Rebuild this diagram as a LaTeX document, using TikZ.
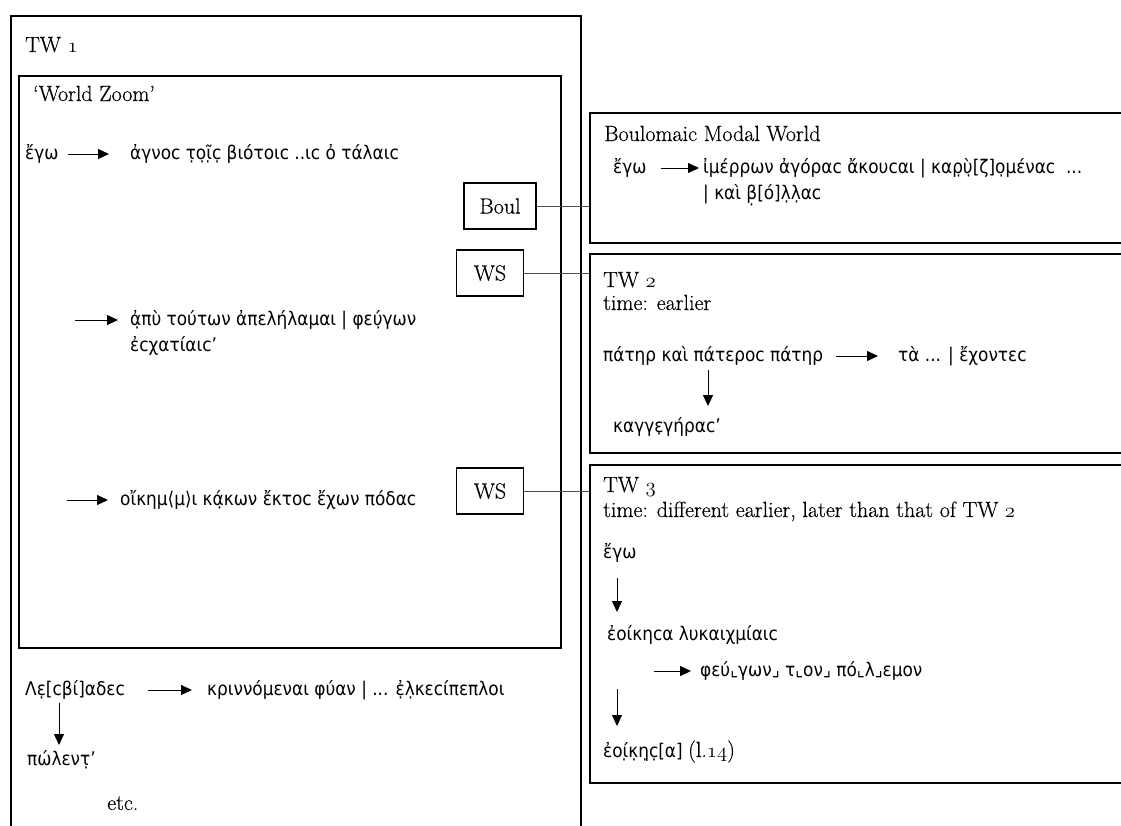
\documentclass[tikz,border=0pt]{standalone}
\usepackage{fontspec}
\setmainfont{Latin Modern Roman}[FakeBold=0.4]
\newfontfamily\grk{DejaVu Sans Condensed}
\usetikzlibrary{arrows.meta}
% old-style digits taken from the Computer Modern math italic font
\newcommand\osn[1]{{\usefont{OML}{cmm}{m}{it}#1}}

\tikzset{
  en/.style={font=\fontsize{22}{26}\selectfont, inner sep=0pt},
  gr/.style={font=\grk\fontsize{18.8}{23}\selectfont, inner sep=0pt},
  arr/.style={-{Triangle[length=11pt,width=10pt]}, line width=1pt},
  frame/.style={draw, line width=1.6pt, inner sep=0pt, anchor=north west},
  tagbox/.style={draw, line width=1.6pt, inner sep=0pt, minimum width=67pt,
    minimum height=46pt, font=\fontsize{22}{26}\selectfont},
  link/.style={draw=black!70, line width=0.9pt}
}

\begin{document}
\begin{tikzpicture}[x=1pt,y=-1pt]
\clip (0,0) rectangle (1121,825);
\useasboundingbox (0,0) rectangle (1121,825);

% ---- frames ----
\node[frame, minimum width=570pt, minimum height=830pt] (tw1box) at (10,15) {};
\node[frame, minimum width=542pt, minimum height=572pt] (wz) at (18,75) {};
\node[frame, minimum width=545pt, minimum height=130pt] (bmw) at (589,112) {};
\node[frame, minimum width=545pt, minimum height=199pt] (tw2box) at (589,253) {};
\node[frame, minimum width=545pt, minimum height=318pt] (tw3box) at (589,464) {};

% ---- world-switch tags ----
\node[tagbox, minimum width=72pt] (boul) at (500,206) {Boul};
\node[tagbox] (ws1) at (490,273) {WS};
\node[tagbox] (ws2) at (490,491) {WS};
\draw[link] (boul.east) -- (boul.east -| bmw.west);
\draw[link] (ws1.east) -- (ws1.east -| tw2box.west);
\draw[link] (ws2.east) -- (ws2.east -| tw3box.west);

% ---- TW 1 ----
\node[en, anchor=base west] (tw1) at (25,52) {TW \osn{1}};
\node[en, anchor=base west] (wzl) at (33,101) {‘World Zoom’};

\node[gr, anchor=base west] (egoA) at (25,159) {ἔγω};
\node[gr, anchor=base west] (tA) at (130,159) {ἀγνοϲ τ̣ο̣ῖ̣ϲ̣ βιότοιϲ ..ιϲ ὀ τάλαιϲ};
\draw[arr, shorten <=9pt, shorten >=21pt] ([yshift=5pt]egoA.base east) -- ([yshift=5pt]tA.base west);

\coordinate (sB) at (75,320);
\node[gr, anchor=base west] (tB1) at (130,325) {ἀ̣πὺ τούτων ἀπελήλαμαι | φεύ̣γων};
\node[gr, anchor=base west] (tB2) at (130,351) {ἐϲχατίαιϲ’};
\draw[arr, shorten >=12pt] (sB) -- (sB -| tB1.west);

\coordinate (sC) at (67,500);
\node[gr, anchor=base west] (tC) at (120,505) {οἴκημ⟨μ⟩ι κά̣κων ἔκτοϲ ἔχων πόδαϲ};
\draw[arr, shorten >=12pt] (sC) -- (sC -| tC.west);

\node[gr, anchor=base west] (lesb) at (25,695) {Λε̣[ϲβί]αδεϲ};
\node[gr, anchor=base west] (krin) at (207,695) {κριννόμεναι φύαν | ... ἐ̣λ̣κεϲίπεπλοι};
\draw[arr, shorten <=23pt, shorten >=15pt] ([yshift=5pt]lesb.base east) -- ([yshift=5pt]krin.base west);
\node[gr, anchor=base west] (polent) at (27,765) {πώλεντ̣’};
\coordinate (dD) at (59,0);
\draw[arr, shorten <=8pt, shorten >=20pt] (lesb.base -| dD) -- (polent.base -| dD);
\node[en, anchor=base west] (etc) at (107,810) {etc.};

% ---- Boulomaic modal world ----
\node[en, anchor=base west] (bmwl) at (604,141) {Boulomaic Modal World};
\node[gr, anchor=base west] (egoB) at (613,173) {ἔγω};
\node[gr, anchor=base west] (tD1) at (703,173) {ἰμέρρων ἀγόραϲ ἄκουϲαι | καρ̣ὺ̣[ζ]ο̣μέναϲ \ ...};
\node[gr, anchor=base west] (tD2) at (703,199) {| καὶ β̣[ό]λ̣λ̣αϲ};
\draw[arr, shorten <=14pt, shorten >=4pt] ([yshift=5pt]egoB.base east) -- ([yshift=5pt]tD1.base west);

% ---- TW 2 ----
\node[en, anchor=base west] (tw2) at (603,287) {TW \osn{2}};
\node[en, anchor=base west] (tw2t) at (603,310) {time: earlier};
\node[gr, anchor=base west] (pat) at (603,361) {πάτηρ καὶ πάτεροϲ πάτηρ};
\node[gr, anchor=base west] (ta) at (898,361) {τὰ ... | ἔχοντεϲ};
\draw[arr, shorten <=13pt, shorten >=20pt] ([yshift=5pt]pat.base east) -- ([yshift=5pt]ta.base west);
\node[gr, anchor=base west] (kag) at (613,432) {καγγε̣γήραϲ’};
\coordinate (dE) at (708,0);
\draw[arr, shorten <=9pt, shorten >=26pt] (pat.base -| dE) -- (kag.base -| dE);

% ---- TW 3 ----
\node[en, anchor=base west] (tw3) at (603,492) {TW \osn{3}};
\node[en, anchor=base west] (tw3t) at (603,517) {time: different earlier, later than that of TW \osn{2}};
\node[gr, anchor=base west] (egoC) at (603,558) {ἔγω};
\node[gr, anchor=base west] (eoi1) at (607,640) {ἐοίκηϲα λυκαιχμίαιϲ};
\coordinate (dF) at (617,0);
\draw[arr, shorten <=20pt, shorten >=28pt] (egoC.base -| dF) -- (eoi1.base -| dF);
\coordinate (sF) at (654,671);
\node[gr, anchor=base west] (feu) at (700,676) {φεύ⌞γων⌟ τ⌞ον⌟ πό⌞λ⌟εμον};
\draw[arr, shorten >=9pt] (sF) -- (sF -| feu.west);
\node[gr, anchor=base west] (eoi2) at (603,757) {ἐοί̣κ̣η̣ϲ̣[α] {\rmfamily\fontsize{22}{26}\selectfont(l.\osn{14})}};
\draw[arr, shorten <=13pt, shorten >=31pt] (feu.base -| dF) -- (eoi2.base -| dF);
\end{tikzpicture}
\end{document}
